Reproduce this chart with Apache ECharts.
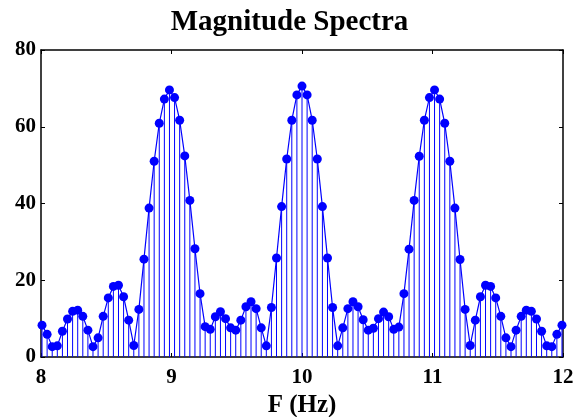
<!DOCTYPE html>
<html>
<head>
<meta charset="utf-8">
<script src="https://cdn.jsdelivr.net/npm/echarts@6/dist/echarts.min.js"></script>
<style>
  html, body { margin: 0; padding: 0; background: #fff; }
  #main { width: 579px; height: 417px; }
</style>
</head>
<body>
<div id="main"></div>
<script>
// frequency bins: k * fs / N  (fs = 10 Hz, N = 256), k = 205 .. 307
var firstBin = 205;
var binStep = 10 / 256;

// magnitude, one per bin
var magnitude = [
  8.3, 5.9, 2.7, 2.9, 6.7, 9.9, 11.9, 12.2, 10.6, 7.0,
  2.7, 5.0, 10.6, 15.4, 18.4, 18.7, 15.7, 9.6, 3.0, 12.4,
  25.5, 38.8, 51.0, 60.9, 67.2, 69.6, 67.6, 61.7, 52.4, 40.8,
  28.2, 16.5, 7.9, 7.2, 10.5, 11.8, 10.0, 7.6, 7.0, 9.6,
  13.1, 14.4, 12.6, 7.6, 2.9, 12.9, 25.8, 39.2, 51.6, 61.7,
  68.3, 70.6, 68.3, 61.7, 51.6, 39.2, 25.8, 12.9, 2.9, 7.6,
  12.6, 14.4, 13.1, 9.7, 7.0, 7.5, 10.0, 11.7, 10.5, 7.2,
  7.8, 16.5, 28.1, 40.8, 52.3, 61.7, 67.6, 69.6, 67.2, 60.9,
  51.0, 38.8, 25.4, 12.4, 3.0, 9.6, 15.7, 18.7, 18.4, 15.4,
  10.6, 5.0, 2.7, 7.0, 10.6, 12.2, 11.9, 9.9, 6.7, 2.9,
  2.7, 5.9, 8.3
];

var xTicks = [8, 9, 10, 11, 12];
var yTicks = [0, 20, 40, 60, 80];

var points = magnitude.map(function (v, i) {
  return [(firstBin + i) * binStep, v];
});

var font = '"Liberation Serif", "Times New Roman", serif';

var chart = echarts.init(document.getElementById('main'));

var option = {
  animation: false,
  title: {
    text: 'Magnitude Spectra',
    left: 'center',
    top: 3,
    textStyle: { fontFamily: font, fontWeight: 'bold', fontSize: 29, color: '#000' }
  },
  grid: { left: 41, right: 16, top: 50, bottom: 60, outerBoundsMode: 'none', containLabel: false },
  xAxis: [
    {
      type: 'value',
      min: xTicks[0], max: xTicks[xTicks.length - 1], interval: 1,
      name: 'F (Hz)',
      nameLocation: 'middle',
      nameGap: 29,
      nameTextStyle: { fontFamily: font, fontWeight: 'bold', fontSize: 25, color: '#000' },
      axisLine: { onZero: false, lineStyle: { color: '#000', width: 1.5 } },
      axisTick: { inside: true, length: 4, lineStyle: { color: '#000' } },
      axisLabel: { margin: 10, fontFamily: font, fontWeight: 'bold', fontSize: 21, color: '#000' },
      splitLine: { show: false }
    },
    {
      type: 'value', position: 'top',
      min: xTicks[0], max: xTicks[xTicks.length - 1], interval: 1,
      axisLine: { onZero: false, lineStyle: { color: '#000', width: 1.5 } },
      axisTick: { inside: true, length: 4, lineStyle: { color: '#000' } },
      axisLabel: { show: false },
      splitLine: { show: false }
    }
  ],
  yAxis: [
    {
      type: 'value',
      min: yTicks[0], max: yTicks[yTicks.length - 1], interval: 20,
      axisLine: { show: true, onZero: false, lineStyle: { color: '#000', width: 1.5 } },
      axisTick: { show: true, inside: true, length: 4, lineStyle: { color: '#000' } },
      axisLabel: { margin: 5, fontFamily: font, fontWeight: 'bold', fontSize: 21, color: '#000' },
      splitLine: { show: false }
    },
    {
      type: 'value', position: 'right',
      min: yTicks[0], max: yTicks[yTicks.length - 1], interval: 20,
      axisLine: { show: true, onZero: false, lineStyle: { color: '#000', width: 1.5 } },
      axisTick: { show: true, inside: true, length: 4, lineStyle: { color: '#000' } },
      axisLabel: { show: false },
      splitLine: { show: false }
    }
  ],
  series: [
    {
      // stems
      type: 'custom',
      xAxisIndex: 0, yAxisIndex: 0,
      data: points,
      renderItem: function (params, api) {
        var top = api.coord([api.value(0), api.value(1)]);
        var base = api.coord([api.value(0), 0]);
        return {
          type: 'line',
          shape: { x1: top[0], y1: top[1], x2: base[0], y2: base[1] },
          style: { stroke: '#0000ff', lineWidth: 1 }
        };
      },
      z: 1
    },
    {
      type: 'line',
      xAxisIndex: 0, yAxisIndex: 0,
      data: points,
      symbol: 'circle',
      symbolSize: 9,
      showSymbol: true,
      lineStyle: { color: '#0000ff', width: 1.2 },
      itemStyle: { color: '#0000ff' },
      z: 2
    }
  ]
};

chart.setOption(option);
</script>
</body>
</html>
